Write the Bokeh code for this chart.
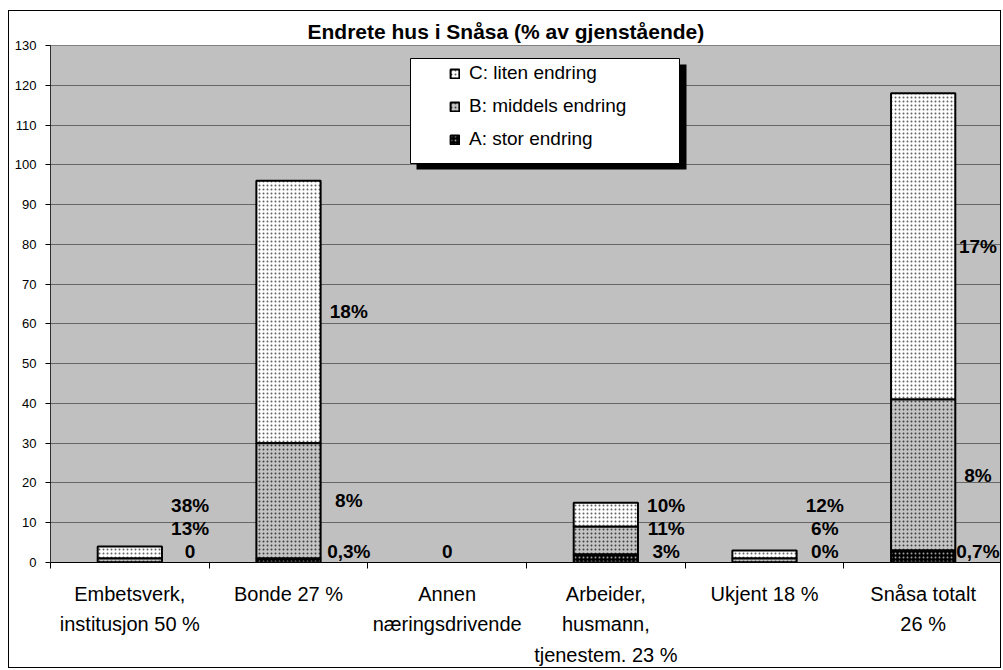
from bokeh.plotting import figure
from bokeh.models import (ColumnDataSource, FixedTicker, Range1d, BoxAnnotation,
                          Legend, LegendItem, LabelSet)
from bokeh.core.properties import value
from bokeh.embed import file_html
from bokeh.resources import INLINE

# ---------------- data ----------------
categories = ["Embetsverk,\ninstitusjon 50 %", "Bonde 27 %", "Annen\nnæringsdrivende",
              "Arbeider,\nhusmann,\ntjenestem. 23 %", "Ukjent 18 %", "Snåsa totalt\n26 %"]
stor = [0, 1, 0, 2, 0, 3]          # A: stor endring
middels = [1, 29, 0, 7, 1, 38]     # B: middels endring
liten = [3, 66, 0, 6, 2, 77]       # C: liten endring
label_stor = ["0", "0,3%", "0", "3%", "0%", "0,7%"]
label_middels = ["13%", "8%", "", "11%", "6%", "8%"]
label_liten = ["38%", "18%", "", "10%", "12%", "17%"]
y_ticks = list(range(0, 131, 10))
series_names = ["C: liten endring", "B: middels endring", "A: stor endring"]
title_text = "Endrete hus i Snåsa (% av gjenstående)"

# ---------------- geometry ----------------
ML, MT = 8, 10                          # element margin (page px)
W, H = 993, 658                         # canvas size
CL, CT = ML + 1, MT + 1                 # canvas origin (after 1px border)
FL, FT, FR, FB = 50, 45, 1002, 562      # frame in page pixels
XMAX, YMAX = 6, 130

def xd(px):
    return (px - FL) / (FR - FL) * XMAX

def yd(py):
    return (FB - py) / (FB - FT) * YMAX

n = len(categories)
xs = [i + 0.5 for i in range(n)]

a_bot = [0] * n
a_top = [s for s in stor]
b_bot = a_top
b_top = [a + b for a, b in zip(a_top, middels)]
c_bot = b_top
c_top = [b + c for b, c in zip(b_top, liten)]
# hide the outline of a bar whose whole stack is empty
vis = [1.0 if t > 0 else 0.0 for t in c_top]

p = figure(width=W, height=H, output_backend="svg", toolbar_location=None,
           x_range=Range1d(0, XMAX), y_range=Range1d(0, YMAX),
           min_border_left=FL - CL, min_border_top=FT - CT,
           min_border_right=CL + W - FR, min_border_bottom=CT + H - FB)
p.styles = {"border": "1px solid black", "margin-left": f"{ML}px", "margin-top": f"{MT}px"}
p.background_fill_color = "#c0c0c0"
p.border_fill_color = "white"
p.outline_line_color = "#808080"
p.outline_line_width = 1

bar_w = 0.405
common = dict(width=bar_w, line_color="black", line_width=2, line_alpha="vis",
              hatch_pattern="dot", hatch_scale=4, hatch_weight=1)
src = ColumnDataSource(dict(x=xs, a_bot=a_bot, a_top=a_top, b_bot=b_bot, b_top=b_top,
                            c_bot=c_bot, c_top=c_top, vis=vis))
rC = p.vbar(x="x", bottom="c_bot", top="c_top", source=src, fill_color="white",
            hatch_color="#606060", **common)
rB = p.vbar(x="x", bottom="b_bot", top="b_top", source=src, fill_color="#c4c4c4",
            hatch_color="#404040", **common)
rA = p.vbar(x="x", bottom="a_bot", top="a_top", source=src, fill_color="black",
            hatch_color="#a0a0a0", **common)

# value labels to the right of each bar
lx, ly, lt = [], [], []
for i in range(n):
    total = c_top[i]
    off = (0.345 if i == n - 1 else 0.38) if total > 0 else 0.0
    ya = max(stor[i] / 2.0, 2.8)
    yb = max(b_bot[i] + middels[i] / 2.0, ya + 5.8)
    yc = max(c_bot[i] + liten[i] / 2.0, yb + 5.8)
    for txt, yy in ((label_stor[i], ya), (label_middels[i], yb), (label_liten[i], yc)):
        if txt:
            lx.append(xs[i] + off)
            ly.append(yy)
            lt.append(txt)
lsrc = ColumnDataSource(dict(x=lx, y=ly, text=lt))
p.add_layout(LabelSet(x="x", y="y", text="text", source=lsrc, text_align="center",
                      text_baseline="middle", text_font=value("Liberation Sans"),
                      text_font_style="bold", text_font_size="19px", text_color="black"))

# axes
p.yaxis.ticker = FixedTicker(ticks=y_ticks)
p.yaxis.axis_line_color = "#303030"
p.yaxis.major_tick_out = 5
p.yaxis.major_tick_in = 0
p.yaxis.minor_tick_line_color = None
p.yaxis.major_label_text_font = "Liberation Sans"
p.yaxis.major_label_text_font_size = "13px"
p.yaxis.major_label_text_color = "black"
p.yaxis.major_label_standoff = 9

p.xaxis.ticker = FixedTicker(ticks=xs, minor_ticks=list(range(n + 1)))
p.xaxis.major_label_overrides = {x: c for x, c in zip(xs, categories)}
p.xaxis.axis_line_color = "black"
p.xaxis.axis_line_width = 1
p.xaxis.major_tick_line_color = None
p.xaxis.major_tick_out = 0
p.xaxis.major_tick_in = 0
p.xaxis.minor_tick_out = 6
p.xaxis.minor_tick_in = 0
p.xaxis.minor_tick_line_color = "black"
p.xaxis.major_label_text_font = "Liberation Sans"
p.xaxis.major_label_text_font_size = "20px"
p.xaxis.major_label_text_color = "black"
p.xaxis.major_label_text_line_height = 1.4
p.xaxis.major_label_standoff = 14

p.xgrid.grid_line_color = None
p.ygrid.ticker = FixedTicker(ticks=y_ticks)
p.ygrid.grid_line_color = "#666666"
p.ygrid.grid_line_width = 1

# legend box with shadow
p.add_layout(BoxAnnotation(left=xd(416), right=xd(686), top=yd(64), bottom=yd(169),
                           fill_color="black", fill_alpha=1, line_color=None, level="overlay"))
p.add_layout(BoxAnnotation(left=xd(410), right=xd(679), top=yd(58), bottom=yd(163),
                           fill_color="white", fill_alpha=1, line_color="black",
                           line_width=1, line_alpha=1, level="overlay"))
legend = Legend(items=[LegendItem(label=series_names[0], renderers=[rC]),
                       LegendItem(label=series_names[1], renderers=[rB]),
                       LegendItem(label=series_names[2], renderers=[rA])],
                location=(449 - FL, FB - 153), border_line_color=None,
                background_fill_alpha=0, padding=0, margin=0, glyph_width=11,
                glyph_height=11, label_standoff=9, label_height=28, spacing=5,
                label_text_font="Liberation Sans", label_text_font_size="19px",
                label_text_color="black")
p.add_layout(legend)

# title
p.title.text = title_text
p.title.align = "left"
p.title.offset = 506 - 199 - FL
p.title.text_font = "Liberation Sans"
p.title.text_font_style = "bold"
p.title.text_font_size = "21px"
p.title.text_color = "black"
p.title.standoff = 5

open("out.html", "w").write(file_html(p, INLINE))
